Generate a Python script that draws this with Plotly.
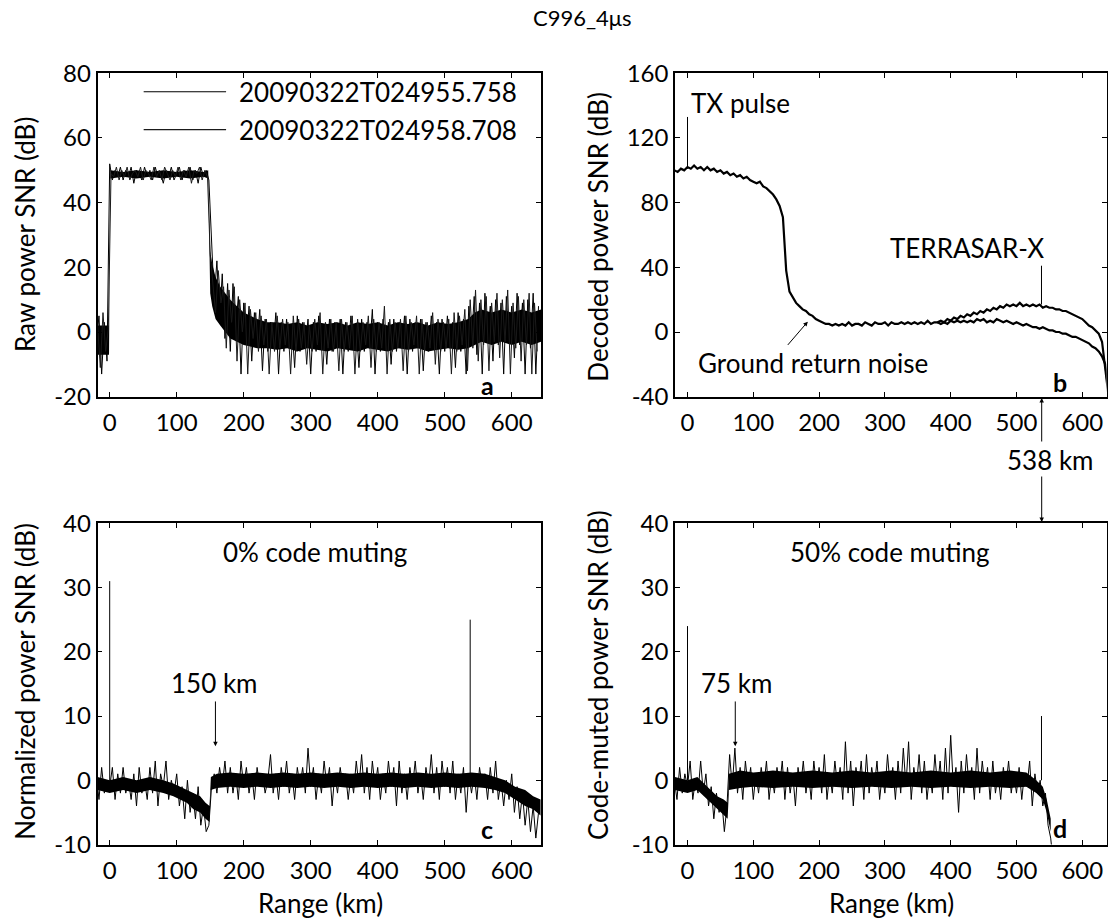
import plotly.graph_objects as go

FONT = "Lato"

# ---------------- data ----------------
# panel a: raw power SNR, two pulses, grid start -20 km / -18 km, 4 km step
raw_start_1, raw_start_2, raw_step = -20, -18, 4
raw1 = [
    -4, 5, -13, 3, -9, 52, 47, 50, 48, 51,
    47, 50, 48, 51, 46, 50, 49, 47, 51, 48,
    50, 47, 51, 48, 49, 46, 50, 48, 51, 47,
    49, 51, 47, 50, 48, 51, 47, 50, 46, 51,
    48, 50, 47, 28, 10, 22, 4, 18, -2, 15,
    -6, 15, 1, 11, -13, 9, -3, 8, -9, 6,
    -4, 7, -12, 4, -6, 3, -5, 6, -13, 3,
    -6, 4, -5, 2, -11, 5, -6, 3, -4, 4,
    -13, 3, -6, 5, -5, 2, -10, 4, -6, 3,
    -5, 4, -13, 3, -6, 5, -4, 2, -11, 4,
    -6, 3, -5, 7, -13, 3, -6, 4, -5, 3,
    -10, 4, -6, 3, -5, 5, -13, 4, -6, 3,
    -5, 4, -12, 3, -6, 5, -4, 3, -13, 4,
    -6, 5, -5, 3, -11, 6, -6, 4, -13, 8,
    -3, 11, -7, 9, -13, 12, -2, 8, -9, 10,
    -4, 9, -13, 11, -3, 8, -8, 12, -4, 9,
    -13, 10, -5, 12, -13, 8,
]
raw2 = [
    2, -11, 6, -6, 1, 49, 48, 51, 47, 50,
    48, 51, 47, 49, 50, 48, 51, 47, 50, 49,
    47, 51, 48, 50, 47, 51, 49, 47, 50, 48,
    51, 47, 50, 48, 51, 46, 50, 49, 51, 47,
    50, 48, 24, 16, 6, 19, 9, 14, -5, 13,
    3, 14, -9, 10, 0, 9, -13, 7, -2, 6,
    -6, 5, -4, 4, -13, 3, -6, 5, -5, 4,
    -4, 3, -13, 5, -6, 4, -5, 3, -10, 2,
    -6, 4, -4, 6, -13, 3, -5, 4, -6, 3,
    -12, 4, -6, 3, -5, 5, -13, 4, -6, 3,
    -4, 5, -11, 4, -6, 3, -5, 8, -13, 4,
    -6, 3, -5, 4, -12, 5, -6, 3, -4, 5,
    -13, 4, -6, 3, -5, 6, -10, 4, -6, 3,
    -5, 4, -13, 6, -6, 5, -4, 7, -12, 10,
    -5, 13, -9, 10, -4, 11, -12, 9, -3, 12,
    -8, 10, -3, 13, -13, 9, -5, 11, -9, 10,
    -4, 12, -13, 9, -6,
]
# dense core of the raw noise (where the trace is solid black)
core_a_km = [-19, -1, 1, 20, 40, 60, 80, 100, 120, 140,
             147, 150, 153, 158, 165, 172, 180, 190, 200, 210,
             220, 235, 250, 265, 280, 295, 310, 325, 340, 355,
             370, 385, 400, 415, 430, 445, 460, 475, 490, 505,
             520, 535, 545, 555, 570, 585, 600, 615, 630, 644]
core_a_low = [-7, -7, 47.5, 48, 47.5, 48, 47.5, 48, 47.5, 48,
              47.5, 12, 8, 4, 2, 0, -2, -3, -4, -4.5,
              -5, -5, -5.5, -5, -6, -5, -5.5, -6, -5, -5.5,
              -6, -5, -5.5, -6, -5, -5.5, -5, -6, -5.5, -5,
              -5.5, -5, -4, -3, -4, -3, -4, -3, -4, -3]
core_a_high = [2, 2, 50, 49.5, 50, 49.5, 50, 49.5, 50, 49.5,
               50, 25, 21, 17, 14, 12, 10, 8, 6, 5,
               4, 3, 3, 2.5, 3, 2, 3, 2.5, 3, 2,
               3, 2.5, 3, 2, 3, 2.5, 3, 2, 3, 2.5,
               3, 4, 6, 7, 6, 7, 6, 7, 6, 7]
legend_labels = ["20090322T024955.758", "20090322T024958.708"]

# panel b: decoded power SNR, 5 km step
dec_start_1, dec_start_2, dec_step = -20, 380, 5
decoded1 = [
    100, 99, 101, 100, 102, 101, 103, 101, 102, 100,
    102, 100, 101, 99, 100, 98, 99, 97, 98, 96,
    97, 95, 96, 94, 93, 92, 93, 90, 89, 87,
    85, 82, 78, 71, 38, 25, 21, 18, 16, 14,
    13, 11, 10, 8, 7, 6, 5, 5, 4, 5,
    4, 5, 4, 6, 4, 5, 5, 4, 6, 5,
    4, 6, 5, 5, 6, 4, 6, 5, 5, 6,
    5, 6, 5, 6, 5, 6, 5, 7, 5, 6,
    6, 7, 6, 8, 7, 9, 8, 10, 9, 11,
    10, 12, 11, 13, 12, 14, 13, 15, 14, 16,
    15, 17, 16, 17, 16, 18, 16, 17, 16, 17,
    16, 17, 15, 16, 15, 15, 14, 14, 13, 13,
    12, 11, 10, 9, 8, 6, 4, 3, 1, -1,
    -6, -25, -40,
]
decoded2 = [
    6, 5, 6, 5, 7, 6, 7, 6, 7, 6,
    7, 6, 8, 7, 8, 6, 7, 6, 8, 7,
    6, 7, 6, 5, 6, 5, 4, 5, 4, 3,
    3, 2, 3, 2, 1, 1, 0, 0, -1, -1,
    -2, -3, -3, -4, -5, -6, -7, -9, -10, -12,
    -15, -20, -38,
]
spikes_b_km = [0, 538]
spikes_b_base = [101, 17]
spikes_b_top = [133, 41]

# panel c: normalized power SNR, 4 km step
norm_start, norm_step = -20, 4
normalized = [
    1, -3, 2, -2, 0, -1, 2, -3, 1, -2,
    2, -2, 0, -3, 1, -4, 2, -2, 0, -3,
    2, -2, 3, -4, 1, -1, 3, -3, 0, -2,
    1, -4, -1, -6, 0, -5, -2, -6, -1, -7,
    -4, -8, -7, -1, 1, -2, 2, -1, 3, -2,
    2, -2, 1, -3, 3, -1, 2, -2, 1, -3,
    2, -1, 1, -2, 0, 4, -2, 1, -3, 2,
    -1, 3, -2, 1, -3, 2, -1, 2, -2, 5,
    -1, 2, -3, 1, -2, 3, -1, 2, -4, 1,
    -2, 2, -1, 1, -3, 1, -2, 3, -1, 4,
    -2, 2, -3, 3, -1, 2, -3, 1, -2, 3,
    -1, 2, -4, 3, -2, 1, -3, 2, -1, 3,
    -2, 1, -3, 2, -1, 4, -2, 2, -3, 3,
    -1, 2, -2, 3, -3, 1, -2, 2, -5, 1,
    -2, 1, -3, 2, -1, 1, -3, 2, -2, 3,
    -3, 0, -4, 0, -3, 1, -5, -1, -6, -2,
    -7, -3, -8, -4, -9, -5,
]
core_c_km = [-18, 0, 20, 40, 60, 80, 95, 105, 115, 125,
             135, 143, 149, 151, 160, 180, 200, 220, 240, 260,
             280, 300, 320, 340, 360, 380, 400, 420, 440, 460,
             480, 500, 520, 540, 560, 575, 590, 605, 620, 632,
             643]
core_c_low = [-1.5, -2, -1.5, -2, -1.5, -2, -2.5, -3, -3.5, -4.5,
              -5, -6, -6.5, -1.5, -1.2, -1, -1.2, -1, -1.2, -1,
              -1.2, -1, -1.2, -1, -1.2, -1, -1.2, -1, -1.2, -1,
              -1.2, -1, -1.2, -1, -1.2, -1.5, -2, -3, -4, -4.5,
              -5.5]
core_c_high = [0.5, 0, 0.5, 0, 0.5, 0, -0.5, -1, -1.5, -2,
               -2.5, -3.5, -4, 0.5, 1, 1.2, 1, 1.2, 1, 1.2,
               1, 1.2, 1, 1.2, 1, 1.2, 1, 1.2, 1, 1.2,
               1, 1.2, 1, 1.2, 1, 0.5, 0, -1, -1.5, -2.5,
               -3]
spikes_c_km = [0, 538]
spikes_c_base = [-1, 0]
spikes_c_top = [31, 25]

# panel d: code-muted power SNR, 4 km step
cm_start, cm_step = -20, 4
codemuted = [
    0, -3, 2, -2, 1, -1, 3, -3, 0, -2,
    3, -2, 1, -4, -1, -6, -2, -5, -3, -8,
    -4, 4, -1, 5, -2, 2, -3, 3, -1, 2,
    -3, 1, -2, 2, -1, 3, -3, 1, -2, 2,
    -1, 3, -3, 2, -2, 1, -4, 2, -1, 3,
    -2, 1, -3, 3, -1, 2, -2, 4, -3, 1,
    -2, 3, -1, 2, -3, 6, -2, 3, -4, 2,
    -1, 3, -3, 4, -2, 2, -1, 3, -3, 1,
    -2, 4, -1, 2, -3, 3, -2, 5, -1, 6,
    -3, 2, -1, 4, -2, 3, -3, 1, -2, 4,
    -1, 3, -3, 5, -2, 7, -1, 2, -5, 3,
    -2, 4, -1, 2, -3, 5, -2, 3, -1, 2,
    -3, 3, -2, 1, -3, 2, -1, 3, -2, 1,
    -2, 2, -3, 1, -1, 3, -4, 1, -2, 0,
    -4, -2, -7, -9, -13,
]
core_d_km = [-19, 0, 15, 25, 35, 45, 55, 61, 63, 80,
             100, 130, 160, 190, 220, 250, 280, 310, 340, 370,
             400, 430, 460, 490, 515, 530, 540, 546, 552]
core_d_low = [-1.5, -2, -1.5, -2.5, -3.5, -4.5, -5.5, -6, -1.5, -1.2,
              -1, -1.2, -1, -1.2, -1, -1.2, -1, -1.2, -1, -1.2,
              -1, -1.2, -1, -1.2, -1, -2, -3, -5, -8]
core_d_high = [0.5, 0, 0.5, -0.5, -1.5, -2.5, -3, -3.5, 1, 1.5,
               1.2, 1.5, 1.2, 1.5, 1.2, 1.5, 1.2, 1.5, 1.2, 1.5,
               1.2, 1.5, 1.2, 1.5, 1.2, 0, -1, -3, -6]
spikes_d_km = [0, 538]
spikes_d_base = [0, 0]
spikes_d_top = [24, 10]

# tick values
x_ticks = [0, 100, 200, 300, 400, 500, 600]
y_ticks_a = [-20, 0, 20, 40, 60, 80]
y_ticks_b = [-40, 0, 40, 80, 120, 160]
y_ticks_cd = [-10, 0, 10, 20, 30, 40]


def grid(start, step, values):
    return [start + step * i for i in range(len(values))]


def spike_xy(kms, bases, tops):
    xs, ys = [], []
    for k, b, t in zip(kms, bases, tops):
        xs += [k, k, None]
        ys += [b, t, None]
    return xs, ys


LINE = dict(color="black", width=1)
fig = go.Figure()


def add_core(kms, low, high, xa, ya):
    fig.add_trace(go.Scatter(x=kms, y=low, mode="lines", line=dict(width=0, color="black"),
                             xaxis=xa, yaxis=ya, hoverinfo="skip"))
    fig.add_trace(go.Scatter(x=kms, y=high, mode="lines", line=dict(width=0, color="black"),
                             fill="tonexty", fillcolor="black", xaxis=xa, yaxis=ya,
                             hoverinfo="skip"))


# panel a
add_core(core_a_km, core_a_low, core_a_high, "x", "y")
fig.add_trace(go.Scatter(x=grid(raw_start_1, raw_step, raw1), y=raw1, mode="lines",
                         line=LINE, xaxis="x", yaxis="y", name=legend_labels[0]))
fig.add_trace(go.Scatter(x=grid(raw_start_2, raw_step, raw2), y=raw2, mode="lines",
                         line=dict(color="#1a1a1a", width=1), xaxis="x", yaxis="y",
                         name=legend_labels[1]))
# panel b
fig.add_trace(go.Scatter(x=grid(dec_start_1, dec_step, decoded1), y=decoded1, mode="lines",
                         line=dict(color="black", width=2.2), xaxis="x2", yaxis="y2"))
fig.add_trace(go.Scatter(x=grid(dec_start_2, dec_step, decoded2), y=decoded2, mode="lines",
                         line=dict(color="black", width=2.2), xaxis="x2", yaxis="y2"))
sx, sy = spike_xy(spikes_b_km, spikes_b_base, spikes_b_top)
fig.add_trace(go.Scatter(x=sx, y=sy, mode="lines", line=LINE, xaxis="x2", yaxis="y2"))
# panel c
add_core(core_c_km, core_c_low, core_c_high, "x3", "y3")
fig.add_trace(go.Scatter(x=grid(norm_start, norm_step, normalized), y=normalized, mode="lines",
                         line=LINE, xaxis="x3", yaxis="y3"))
sx, sy = spike_xy(spikes_c_km, spikes_c_base, spikes_c_top)
fig.add_trace(go.Scatter(x=sx, y=sy, mode="lines", line=LINE, xaxis="x3", yaxis="y3"))
# panel d
add_core(core_d_km, core_d_low, core_d_high, "x4", "y4")
fig.add_trace(go.Scatter(x=grid(cm_start, cm_step, codemuted), y=codemuted, mode="lines",
                         line=LINE, xaxis="x4", yaxis="y4"))
sx, sy = spike_xy(spikes_d_km, spikes_d_base, spikes_d_top)
fig.add_trace(go.Scatter(x=sx, y=sy, mode="lines", line=LINE, xaxis="x4", yaxis="y4"))

W, H = 1108, 919
def px(v):
    return v / W
def py(v):
    return 1 - v / H

XL = [px(97.5), px(541)]
XR = [px(675), px(1106.5)]
YT = [py(396.7), py(73.3)]
YB = [py(844.5), py(523.3)]
RANGE_L = [-18.2, 643.7]
RANGE_R = [-19, 636.8]

axis_common = dict(showline=True, linecolor="black", linewidth=1.5, mirror="ticks",
                   ticks="inside", ticklen=5, tickwidth=1.2, tickcolor="black",
                   showgrid=False, zeroline=False, automargin=False,
                   tickfont=dict(family=FONT, size=24, color="black"))
xcommon = dict(axis_common, tickvals=x_ticks, ticktext=[str(v) for v in x_ticks],
               ticklabelstandoff=4)


def ycommon(vals):
    return dict(axis_common, tickvals=vals, ticktext=[str(v) for v in vals])


fig.update_layout(
    width=W, height=H, margin=dict(l=0, r=0, t=0, b=0, pad=0, autoexpand=False),
    paper_bgcolor="white", plot_bgcolor="white", showlegend=False,
    font=dict(family=FONT, color="black"),
    xaxis=dict(xcommon, domain=XL, anchor="y", range=RANGE_L),
    yaxis=dict(ycommon(y_ticks_a), domain=YT, anchor="x", range=[-20, 80]),
    xaxis2=dict(xcommon, domain=XR, anchor="y2", range=RANGE_R),
    yaxis2=dict(ycommon(y_ticks_b), domain=YT, anchor="x2", range=[-40, 160]),
    xaxis3=dict(xcommon, domain=XL, anchor="y3", range=RANGE_L),
    yaxis3=dict(ycommon(y_ticks_cd), domain=YB, anchor="x3", range=[-10, 40]),
    xaxis4=dict(xcommon, domain=XR, anchor="y4", range=RANGE_R),
    yaxis4=dict(ycommon(y_ticks_cd), domain=YB, anchor="x4", range=[-10, 40]),
)

# legend drawn inside panel a
fig.add_shape(type="line", xref="x", yref="y", x0=50.7, x1=173.7, y0=74.3, y1=74.3,
              line=dict(color="black", width=1.2))
fig.add_shape(type="line", xref="x", yref="y", x0=50.7, x1=173.7, y0=62.6, y1=62.6,
              line=dict(color="#1a1a1a", width=1.2))

ann = []
def text(x, y, s, size=26, xref="paper", yref="paper", xanchor="center", angle=0, bold=False):
    ann.append(dict(x=x, y=y, xref=xref, yref=yref, text=("<b>%s</b>" % s) if bold else s,
                    showarrow=False, xanchor=xanchor, yanchor="middle", textangle=angle,
                    font=dict(family=FONT, size=size, color="black")))

text(px(582), py(18), "C996_4μs", size=22)
text(190.3, 74.3, legend_labels[0], size=26, xref="x", yref="y", xanchor="left")
text(190.3, 62.6, legend_labels[1], size=26, xref="x", yref="y", xanchor="left")
# y titles
text(px(25), py(235), "Raw power SNR (dB)", size=26, angle=-90)
text(px(598), py(236.7), "Decoded power SNR (dB)", size=26, angle=-90)
text(px(25), py(681.7), "Normalized power SNR (dB)", size=26, angle=-90)
text(px(598), py(675), "Code-muted power SNR (dB)", size=26, angle=-90)
# x titles
text(px(320), py(903), "Range (km)", size=26)
text(px(891.5), py(903), "Range (km)", size=26)
# panel letters
text(564, -16.3, "a", size=25, xref="x", yref="y", bold=True)
text(566, -30.7, "b", size=25, xref="x2", yref="y2", bold=True)
text(562.7, -7.6, "c", size=25, xref="x3", yref="y3", bold=True)
text(566.5, -7.5, "d", size=25, xref="x4", yref="y4", bold=True)
# panel b labels
text(79.8, 141.4, "TX pulse", xref="x2", yref="y2")
text(425.5, 52, "TERRASAR-X", xref="x2", yref="y2")
text(190.7, -19.2, "Ground return noise", xref="x2", yref="y2")
# panel c / d labels
text(305.7, 35.6, "0% code muting", xref="x3", yref="y3")
text(156, 15.1, "150 km", xref="x3", yref="y3")
text(307, 35.6, "50% code muting", xref="x4", yref="y4")
text(74.6, 15.1, "75 km", xref="x4", yref="y4")
text(px(1050), py(460), "538 km")


def arrow(x, y, ax, ay, xref, yref):
    ann.append(dict(x=x, y=y, ax=ax, ay=ay, xref=xref, yref=yref, axref=xref, ayref=yref,
                    text="", showarrow=True, arrowhead=2, arrowsize=0.9, arrowwidth=1,
                    arrowcolor="black"))


arrow(182.8, 6.4, 150.5, -8.9, "x2", "y2")
arrow(157.8, 5.3, 157.8, 12.5, "x3", "y3")
arrow(72.6, 5.3, 72.6, 12.5, "x4", "y4")
# 538 km double pointer between panels b and d
ann.append(dict(x=px(1041.7), y=py(398), xref="paper", yref="paper", ax=0, ay=45, text="",
                showarrow=True, arrowhead=2, arrowsize=0.9, arrowwidth=1, arrowcolor="black"))
ann.append(dict(x=px(1041.7), y=py(522), xref="paper", yref="paper", ax=0, ay=-47, text="",
                showarrow=True, arrowhead=2, arrowsize=0.9, arrowwidth=1, arrowcolor="black"))

fig.update_layout(annotations=ann)
fig.write_html("out.html", config={"displayModeBar": False},
               post_script="document.body.style.margin='0px';")
